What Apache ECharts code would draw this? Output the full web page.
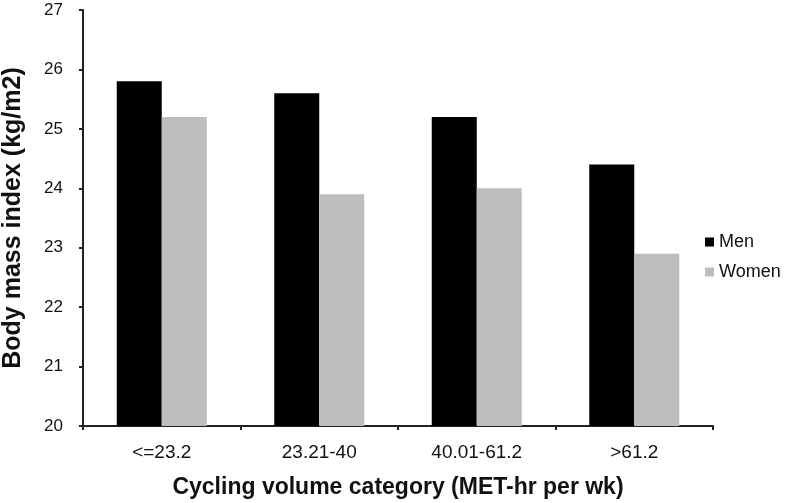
<!DOCTYPE html>
<html>
<head>
<meta charset="utf-8">
<script src="https://cdn.jsdelivr.net/npm/echarts@6/dist/echarts.min.js"></script>
<style>
  html, body { margin: 0; padding: 0; background: #fff; }
  #chart { width: 785px; height: 503px; }
</style>
</head>
<body>
<div id="chart"></div>
<script>
const categories = ['<=23.2', '23.21-40', '40.01-61.2', '>61.2'];
const men = [25.8, 25.6, 25.2, 24.4];
const women = [25.2, 23.9, 24.0, 22.9];

const FONT = 'Liberation Sans, Arial, sans-serif';
const AXIS = '#222';

const chart = echarts.init(document.getElementById('chart'), null, { renderer: 'canvas' });

chart.setOption({
  backgroundColor: '#fff',
  animation: false,
  textStyle: { fontFamily: FONT },
  legend: {
    orient: 'vertical',
    left: 700, top: 228,
    itemWidth: 9, itemHeight: 9, itemGap: 12,
    icon: 'rect',
    textStyle: { color: '#111', fontSize: 18, fontFamily: FONT },
    data: ['Men', 'Women'],
  },
  grid: { left: 83, right: 72, top: 10, bottom: 77, containLabel: false, outerBoundsMode: 'none' },
  xAxis: {
    type: 'category',
    data: categories,
    name: 'Cycling volume category (MET-hr per wk)',
    nameLocation: 'middle',
    nameGap: 50,
    nameTextStyle: { color: '#111', fontSize: 23, fontWeight: 'bold', fontFamily: FONT },
    axisLine: { lineStyle: { color: AXIS, width: 2 } },
    axisTick: { show: true, length: 4, alignWithLabel: false, lineStyle: { color: AXIS, width: 2 } },
    axisLabel: { color: '#111', fontSize: 19, margin: 17, fontFamily: FONT },
  },
  yAxis: {
    type: 'value',
    min: 20, max: 27, interval: 1,
    name: 'Body mass index (kg/m2)',
    nameLocation: 'middle',
    nameGap: 57,
    nameTextStyle: { color: '#111', fontSize: 25, fontWeight: 'bold', fontFamily: FONT },
    axisLine: { show: true, lineStyle: { color: AXIS, width: 2 } },
    axisTick: { show: true, length: 4, inside: false, lineStyle: { color: AXIS, width: 2 } },
    axisLabel: { color: '#111', fontSize: 17, margin: 20, fontFamily: FONT },
    splitLine: { show: false },
  },
  series: [
    {
      name: 'Men', type: 'bar', data: men,
      itemStyle: { color: '#000' },
      barWidth: 45, barGap: '0%',
    },
    {
      name: 'Women', type: 'bar', data: women,
      itemStyle: { color: '#bdbdbd' },
      barWidth: 45, barGap: '0%',
    },
  ],
});
</script>
</body>
</html>
